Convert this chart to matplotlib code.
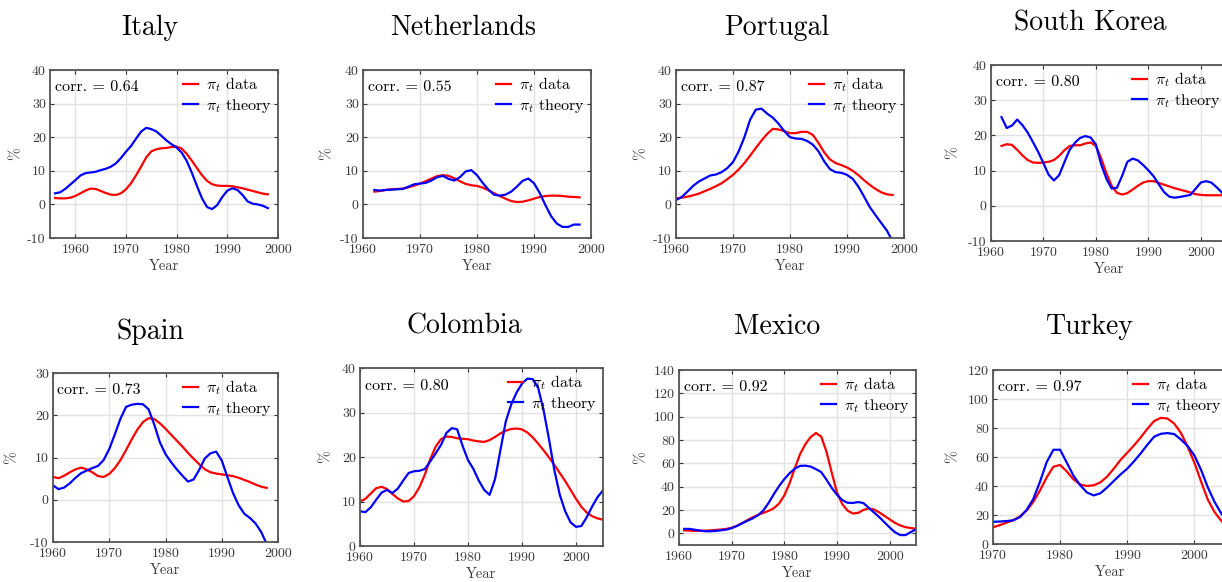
import numpy as np
import matplotlib
matplotlib.use("Agg")
import matplotlib.pyplot as plt

plt.rcParams['font.family'] = 'serif'
plt.rcParams['font.serif'] = ['cmr10', 'DejaVu Serif']
plt.rcParams['mathtext.fontset'] = 'cm'
plt.rcParams['axes.unicode_minus'] = False

# inflation data (red) and model (blue)
italy_years = np.arange(1956, 1999)
italy_data = [1.9, 1.8, 1.8, 2.0, 2.5, 3.3, 4.1, 4.7, 4.6, 4.0,
              3.4, 2.9, 2.8, 3.3, 4.5, 6.3, 8.7, 11.3, 14.0, 15.8,
              16.4, 16.7, 16.8, 17.1, 17.2, 16.6, 15.0, 13.0, 10.8, 8.7,
              7.0, 6.0, 5.6, 5.5, 5.5, 5.4, 5.1, 4.8, 4.4, 4.0,
              3.6, 3.2, 3.0]
italy_theory = [3.3, 3.6, 4.6, 5.9, 7.2, 8.6, 9.3, 9.5, 9.7, 10.2,
                10.6, 11.2, 12.2, 13.8, 15.7, 17.4, 19.6, 21.7, 22.8, 22.4,
                21.7, 20.4, 19.0, 17.9, 16.9, 15.4, 12.9, 9.4, 5.5, 1.8,
                -0.8, -1.4, -0.2, 2.2, 4.1, 4.8, 4.3, 2.8, 0.9, 0.2,
                0.0, -0.4, -1.1]

neth_years = np.arange(1962, 1999)
neth_data = [3.8, 4.0, 4.3, 4.5, 4.6, 4.7, 5.1, 5.6, 6.2, 6.9,
             7.7, 8.4, 8.7, 8.5, 7.8, 6.9, 6.1, 5.7, 5.5, 5.0,
             4.2, 3.3, 2.5, 1.7, 1.0, 0.7, 0.8, 1.2, 1.7, 2.2,
             2.5, 2.6, 2.6, 2.5, 2.3, 2.2, 2.1]
neth_theory = [4.3, 4.1, 4.3, 4.4, 4.5, 4.6, 5.3, 6.0, 6.2, 6.4,
               7.1, 8.1, 8.5, 7.6, 7.1, 8.1, 9.8, 10.2, 8.7, 6.4,
               4.4, 2.9, 2.6, 2.9, 3.8, 5.3, 7.0, 7.7, 6.3, 3.4,
               -0.2, -3.5, -5.7, -6.7, -6.7, -6.0, -6.0]

port_years = np.arange(1960, 1999)
port_data = [1.8, 2.0, 2.3, 2.7, 3.2, 3.9, 4.6, 5.4, 6.3, 7.5,
             8.8, 10.4, 12.3, 14.5, 16.8, 19.0, 21.0, 22.5, 22.3, 21.8,
             21.2, 21.2, 21.6, 21.6, 20.7, 18.3, 15.5, 13.4, 12.3, 11.7,
             11.0, 10.0, 8.7, 7.2, 5.8, 4.6, 3.6, 3.0, 2.8]
port_theory = [1.3, 2.2, 3.8, 5.5, 6.8, 7.7, 8.6, 8.9, 9.6, 10.8,
               12.6, 15.8, 20.0, 25.2, 28.2, 28.5, 27.0, 25.8, 24.0, 21.8,
               20.0, 19.6, 19.5, 18.9, 17.8, 15.8, 12.8, 10.5, 9.6, 9.4,
               8.8, 7.6, 5.3, 2.3, -0.8, -3.2, -5.5, -7.8, -11.0]

korea_years = np.arange(1962, 2006)
korea_data = [17.0, 17.5, 17.3, 15.9, 14.3, 13.0, 12.3, 12.2, 12.3, 12.5,
              13.0, 14.2, 15.8, 17.0, 17.2, 17.2, 17.7, 18.0, 17.0, 13.5,
              9.3, 5.7, 3.7, 3.2, 3.6, 4.6, 5.7, 6.6, 7.0, 7.0,
              6.5, 6.0, 5.5, 5.0, 4.6, 4.2, 3.8, 3.3, 3.1, 3.0,
              3.0, 3.0, 3.0, 3.0]
korea_theory = [25.2, 22.1, 22.8, 24.5, 22.9, 20.8, 18.1, 15.3, 12.1, 8.8,
                7.2, 8.7, 12.4, 15.9, 17.9, 19.3, 19.8, 19.4, 17.4, 11.8,
                7.7, 4.9, 5.1, 8.5, 12.5, 13.4, 12.9, 11.6, 10.1, 8.4,
                6.1, 3.9, 2.6, 2.3, 2.5, 2.8, 3.1, 4.8, 6.6, 7.0,
                6.6, 5.3, 3.8, 2.5]

spain_years = np.arange(1960, 1999)
spain_data = [5.4, 5.1, 5.7, 6.5, 7.2, 7.6, 7.2, 6.5, 5.6, 5.4,
              6.1, 7.5, 9.4, 11.8, 14.3, 16.6, 18.4, 19.3, 19.1, 18.1,
              16.8, 15.4, 14.0, 12.6, 11.1, 9.7, 8.4, 7.2, 6.5, 6.2,
              6.0, 5.8, 5.6, 5.2, 4.7, 4.2, 3.6, 3.1, 2.8]
spain_theory = [3.4, 2.5, 2.9, 3.9, 5.2, 6.3, 6.9, 7.5, 8.0, 9.4,
                12.0, 15.5, 19.2, 22.0, 22.5, 22.7, 22.6, 21.4, 17.8, 13.6,
                10.8, 8.9, 7.2, 5.7, 4.3, 4.8, 7.1, 9.8, 11.0, 11.4,
                9.3, 5.4, 1.6, -1.3, -3.3, -4.3, -5.6, -7.6, -10.5]

col_years = np.arange(1960, 2006)
col_data = [10.0, 10.6, 11.8, 13.0, 13.3, 12.8, 11.7, 10.7, 10.0, 10.1,
            11.2, 13.2, 16.0, 19.5, 22.3, 24.0, 24.6, 24.5, 24.2, 24.1,
            24.0, 23.7, 23.5, 23.4, 23.8, 24.5, 25.3, 25.9, 26.3, 26.4,
            26.2, 25.5, 24.4, 23.0, 21.5, 19.9, 18.2, 16.4, 14.6, 12.6,
            10.6, 8.8, 7.5, 6.7, 6.2, 5.9]
col_theory = [7.8, 7.6, 8.7, 10.4, 12.0, 12.6, 11.9, 12.9, 14.7, 16.4,
              16.8, 16.9, 17.3, 19.0, 20.8, 22.7, 25.4, 26.5, 26.2, 22.5,
              19.3, 17.3, 14.7, 12.6, 11.5, 15.0, 21.5, 28.0, 31.8, 34.5,
              36.5, 37.6, 37.5, 35.5, 30.5, 24.0, 17.0, 11.5, 7.8, 5.3,
              4.3, 4.5, 6.5, 8.9, 11.0, 12.5]

mex_years = np.arange(1961, 2006)
mex_data = [2.5, 2.3, 2.1, 2.1, 2.3, 2.6, 2.9, 3.3, 3.8, 4.8,
            6.5, 8.8, 11.4, 13.8, 15.8, 17.5, 19.2, 21.5, 25.5, 32.5,
            43.0, 56.0, 68.0, 76.5, 82.5, 86.0, 83.0, 70.0, 52.0, 35.0,
            25.0, 19.5, 17.0, 17.5, 20.0, 21.3, 20.5, 18.0, 15.0, 12.0,
            9.0, 6.8, 5.3, 4.5, 4.0]
mex_theory = [3.8, 3.8, 3.1, 2.4, 1.8, 1.8, 2.1, 2.6, 3.2, 4.5,
              6.3, 8.6, 10.8, 12.8, 15.5, 19.5, 26.0, 33.5, 40.5, 46.5,
              51.5, 55.5, 57.8, 58.0, 57.2, 55.0, 52.5, 46.0, 39.0, 33.0,
              28.5, 26.2, 26.0, 26.8, 26.0, 22.0, 18.0, 14.0, 9.5, 5.0,
              1.0, -1.5, -1.5, 1.0, 3.5]

turk_years = np.arange(1970, 2006)
turk_data = [11.5, 13.0, 14.7, 16.5, 19.0, 23.0, 29.0, 37.0, 46.0, 53.3,
             54.5, 50.0, 44.5, 41.0, 40.0, 40.5, 42.5, 46.5, 52.0, 58.0,
             63.0, 68.0, 73.5, 79.5, 84.8, 87.0, 86.5, 83.0, 76.5, 67.0,
             56.0, 43.0, 30.5, 22.0, 16.0, 11.0]
turk_theory = [15.3, 15.5, 15.8, 16.3, 18.5, 23.5, 31.0, 43.0, 56.5, 65.0,
               65.0, 56.0, 47.0, 40.5, 35.5, 33.5, 35.0, 39.0, 43.5, 48.0,
               52.0, 57.0, 62.5, 68.5, 74.0, 76.0, 76.5, 75.8, 72.0, 67.5,
               61.0, 51.0, 39.0, 29.0, 21.0, 15.0]

countries = ['Italy', 'Netherlands', 'Portugal', 'South Korea',
             'Spain', 'Colombia', 'Mexico', 'Turkey']
corrs = [0.64, 0.55, 0.87, 0.80, 0.73, 0.80, 0.92, 0.97]

W, H = 1222, 582
fig = plt.figure(figsize=(W / 100, H / 100), dpi=100)

# axes boxes in pixels: left, right, top, bottom (right column runs off the edge)
boxes = [(50, 278, 70, 238), (363, 591, 70, 238), (676, 904, 70, 238), (991, 1227, 65, 241),
         (53, 278, 373, 542), (360, 603, 368, 546), (679, 916, 370, 545), (993, 1228, 370, 544)]
title_pos = [(150, 28), (463, 28), (777, 28), (1090, 23),
             (151, 332), (464, 326), (777, 327), (1090, 327)]
ylab_off = [28, 30, 29, 32, 35, 28, 32, 34]   # px from axes left to right side of '%'
xlims = [(1955, 2000), (1960, 2000), (1960, 2000), (1960, 2005),
         (1960, 2000), (1960, 2005), (1960, 2005), (1970, 2005)]
ylims = [(-10, 40), (-10, 40), (-10, 40), (-10, 40),
         (-10, 30), (0, 40), (-10, 140), (0, 120)]
yticks = [np.arange(-10, 41, 10)] * 4 + [np.arange(-10, 31, 10), np.arange(0, 41, 10),
                                         np.arange(0, 141, 20), np.arange(0, 121, 20)]

series = [(italy_years, italy_data, italy_theory), (neth_years, neth_data, neth_theory),
          (port_years, port_data, port_theory), (korea_years, korea_data, korea_theory),
          (spain_years, spain_data, spain_theory), (col_years, col_data, col_theory),
          (mex_years, mex_data, mex_theory), (turk_years, turk_data, turk_theory)]

for i, name in enumerate(countries):
    l, r, t, b = boxes[i]
    w, h = r - l, b - t
    ax = fig.add_axes([l / W, 1 - b / H, w / W, h / H])
    yrs, dat, th = series[i]
    ax.plot(yrs, dat, color='red', lw=1.6, label=r'$\pi_t$ data')
    ax.plot(yrs, th, color='blue', lw=1.6, label=r'$\pi_t$ theory')
    ax.set_xlim(*xlims[i])
    ax.set_ylim(*ylims[i])
    x0 = int(np.ceil(xlims[i][0] / 10) * 10)
    ax.set_xticks(np.arange(x0, 2001, 10))
    ax.set_yticks(yticks[i])
    ax.grid(True, color='#e2e2e2', lw=1.0)
    ax.set_axisbelow(True)
    ax.tick_params(direction='in', length=3, width=0.8, top=True, right=True,
                   labelsize=10, color='#333333', labelcolor='#3a3a3a', pad=3)
    ax.tick_params(axis='x', pad=4)
    for s in ax.spines.values():
        s.set_color('#555555')
        s.set_linewidth(1.3)
    ax.set_xlabel('Year', fontsize=10.5, color='#3a3a3a')
    ax.xaxis.set_label_coords(0.5, -21 / h)
    ax.set_ylabel('%', fontsize=11, color='#3a3a3a')
    ax.yaxis.set_label_coords(-ylab_off[i] / w, 0.5)
    ax.text(0.02, 0.9, 'corr. = %.2f' % corrs[i], transform=ax.transAxes,
            fontsize=11.5, va='center', ha='left')
    ax.legend(loc='upper right', frameon=False, fontsize=11.5, handlelength=1.0,
              handletextpad=0.5, labelspacing=0.15, borderaxespad=0.1,
              borderpad=0.25)
    tx, ty = title_pos[i]
    fig.text(tx / W, 1 - ty / H, name, fontsize=20, ha='center', va='center')

fig.savefig('out.png', dpi=100)
